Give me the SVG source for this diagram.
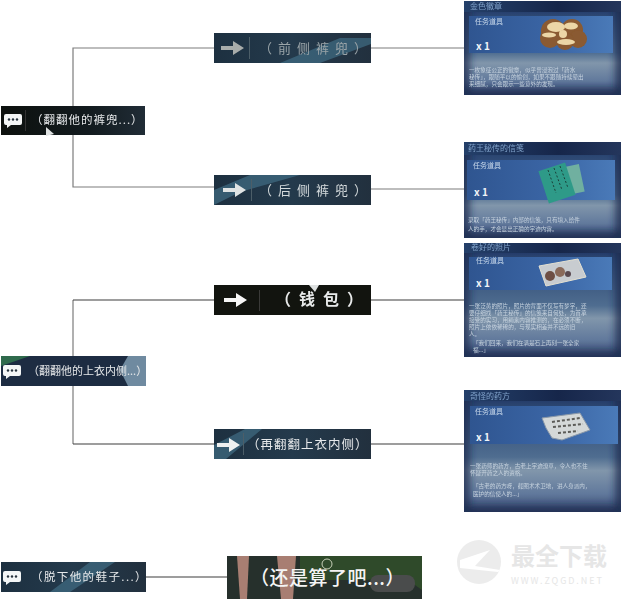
<svg xmlns="http://www.w3.org/2000/svg" width="622" height="600" viewBox="0 0 622 600">
<style>
text{font-family:"Noto Sans CJK SC","Noto Sans",sans-serif}
.c{fill:none;stroke:#7c7c7c;stroke-width:1.2}
.d{fill:none;stroke:#3c3c3c;stroke-width:1.1}
.l{fill:#e6e8ea;font-size:11.5px;letter-spacing:1px;filter:url(#s)}
.g{fill:#9aa4a8;font-size:13px;letter-spacing:6px;filter:url(#s)}
.w{fill:#e8eaea;font-size:16px;font-weight:700;letter-spacing:8px;filter:url(#s)}
.tt{fill:#7fa0c8;font-size:8px;filter:url(#s)}
.tg{fill:#c8d8ea;font-size:7px;filter:url(#s)}
.n{fill:#f0f4f8;font-size:10px;font-weight:700}
.b{fill:#c6d2de;font-size:5.6px;filter:url(#s)}
.mark{fill:#e6e6e6;font-weight:700}
.streak{fill:#3f6a80;opacity:.75}
.vig{fill:none;stroke:#1b2a4e;stroke-width:9;filter:url(#v)}
</style>
<defs>
<filter id="s" x="-10%" y="-30%" width="120%" height="160%"><feGaussianBlur stdDeviation="0.35"/></filter>
<filter id="v" x="-20%" y="-20%" width="140%" height="140%"><feGaussianBlur stdDeviation="4"/></filter>
<filter id="i" x="-10%" y="-10%" width="120%" height="120%"><feGaussianBlur stdDeviation="0.5"/></filter>
<linearGradient id="nd" x1="0" y1="0" x2="1" y2="0"><stop offset="0" stop-color="#1d3040"/><stop offset=".5" stop-color="#243a4c"/><stop offset="1" stop-color="#22303e"/></linearGradient>
<linearGradient id="nk" x1="0" y1="0" x2="1" y2="0"><stop offset="0" stop-color="#0d110e"/><stop offset=".6" stop-color="#121a1e"/><stop offset="1" stop-color="#202c36"/></linearGradient>
<linearGradient id="card" x1="0" y1="0" x2="0" y2="1"><stop offset="0" stop-color="#22375e"/><stop offset=".14" stop-color="#2b4672"/><stop offset=".55" stop-color="#4f6d90"/><stop offset=".66" stop-color="#8196ab"/><stop offset=".85" stop-color="#61799c"/><stop offset="1" stop-color="#364870"/></linearGradient>
<linearGradient id="band" x1="0" y1="0" x2="1" y2="0"><stop offset="0" stop-color="#2f5590"/><stop offset=".6" stop-color="#3b66a6"/><stop offset="1" stop-color="#4a7ab8"/></linearGradient>
<linearGradient id="title" x1="0" y1="0" x2="1" y2="0"><stop offset="0" stop-color="#24406a"/><stop offset=".6" stop-color="#16264a"/><stop offset="1" stop-color="#24365c"/></linearGradient>
<clipPath id="cN1"><rect x="214" y="33" width="157" height="30"/></clipPath>
<clipPath id="cN2"><rect x="214" y="175" width="157" height="30"/></clipPath>
<clipPath id="cN3"><rect x="214" y="429" width="157" height="30"/></clipPath>
<clipPath id="cN4"><rect x="1" y="356" width="145" height="30"/></clipPath>
<clipPath id="cN5"><rect x="1" y="562" width="145" height="30"/></clipPath>
<clipPath id="cN6"><rect x="227" y="556" width="195" height="43"/></clipPath>
<clipPath id="k1"><rect x="464" y="1" width="157" height="94"/></clipPath>
<clipPath id="k2"><rect x="464" y="142" width="157" height="96"/></clipPath>
<clipPath id="k3"><rect x="464" y="243" width="157" height="114"/></clipPath>
<clipPath id="k4"><rect x="464" y="390" width="157" height="122"/></clipPath>
<g id="bubble"><path d="M-7-6H7a2 2 0 0 1 2 2V3a2 2 0 0 1-2 2H-2L-6 8V5H-7a2 2 0 0 1-2-2V-4a2 2 0 0 1 2-2Z" fill="#f4f6f6"/><circle cx="-4" cy="-.5" r="1.2" fill="#26323c"/><circle cx="0" cy="-.5" r="1.2" fill="#26323c"/><circle cx="4" cy="-.5" r="1.2" fill="#26323c"/></g>
<path id="arrow" d="M-13-2H-1V-7L10 0-1 7V2H-13Z"/>
</defs>

<g id="connectors">
<path class="c" d="M73 106V48H214M73 135V187H214M371 48H464M371 189H464"/>
<path class="c" d="M73 356V300M73 386V444"/>
<path class="d" d="M73 300H214M73 444H214M371 300H464M371 444H464M146 577H227"/>
</g>

<g id="node-trousers">
<rect x="1" y="106" width="144" height="29" fill="url(#nk)"/>
<use href="#bubble" x="13" y="120"/>
<rect x="25" y="110" width="1" height="21" fill="#333"/>
<text class="l" x="31" y="124">（翻翻他的裤兜...）</text>
<path d="M46 127 L54 134 L50 135 L46 136Z" fill="#dfe2e2"/>
</g>

<g id="node-front">
<rect x="214" y="33" width="157" height="30" fill="url(#nd)"/>
<path class="streak" clip-path="url(#cN1)" d="M280 63 L340 38 H371 V44 L320 63Z"/>
<use href="#arrow" x="234" y="48" fill="#a8acaa"/>
<rect x="249" y="37" width="1" height="22" fill="#4c5e68"/>
<text class="g" x="259" y="53">（前侧裤兜）</text>
</g>

<g id="node-back">
<rect x="214" y="175" width="157" height="30" fill="url(#nd)"/>
<path class="streak" clip-path="url(#cN2)" d="M214 190 L250 175 H300 L240 192 L214 205Z"/>
<use href="#arrow" x="236" y="190" fill="#dfe3e3"/>
<rect x="251" y="179" width="1" height="22" fill="#4c5e68"/>
<text class="g" x="259" y="195" style="fill:#d4dadc">（后侧裤兜）</text>
</g>

<g id="node-wallet">
<rect x="214" y="285" width="157" height="30" fill="#12140f"/>
<use href="#arrow" x="237" y="300" fill="#f6f6f6"/>
<rect x="259" y="290" width="1" height="21" fill="#3a3a38"/>
<text class="w" x="275" y="305">（钱包）</text>
<path d="M309 285 L319 285 L315 292Z" fill="#dfe2e2"/>
</g>

<g id="node-again">
<rect x="214" y="429" width="157" height="30" fill="url(#nd)"/>
<path class="streak" clip-path="url(#cN3)" d="M214 445 L245 429 H262 L226 459 H214Z"/>
<use href="#arrow" x="230" y="445" fill="#eef0f0"/>
<rect x="243" y="433" width="1" height="22" fill="#4c5e68"/>
<text class="l" x="247" y="449" style="font-size:12.5px">（再翻翻上衣内侧）</text>
</g>

<g id="node-shirt">
<rect x="1" y="356" width="145" height="30" fill="#1d2c42"/>
<path clip-path="url(#cN4)" d="M1 356H30L1 366Z" fill="#2f6a4c"/>
<path clip-path="url(#cN4)" d="M128 356H146V386H128L120 370Z" fill="#6f8aa0"/>
<use href="#bubble" x="12" y="371"/>
<text class="l" x="28" y="375" style="font-size:11px;letter-spacing:0">（翻翻他的上衣内侧...）</text>
</g>

<g id="node-shoes">
<rect x="1" y="562" width="145" height="30" fill="url(#nd)"/>
<path class="streak" clip-path="url(#cN5)" d="M50 592 L90 562 H115 L70 592Z"/>
<use href="#bubble" x="12" y="577"/>
<text class="l" x="31" y="581" style="letter-spacing:1.4px">（脱下他的鞋子...）</text>
</g>

<g id="node-never-mind">
<rect x="227" y="556" width="195" height="43" fill="#26302c"/>
<g clip-path="url(#cN6)">
<path d="M300 556H422V590L405 578 360 580 H300Z" fill="#2f4a2a"/>
<path d="M237 556H249L247 599H240Z" fill="#a87e72"/>
<path d="M277 556H296L293 599H281Z" fill="#a87e72"/>
<rect x="370" y="575" width="45" height="17" rx="8" fill="#4a4c4c"/>
<circle cx="327" cy="564" r="5" fill="none" stroke="#c8d0b8"/>
</g>
<text x="250" y="585" style="fill:#f4f4f4;font-size:19px;font-weight:500;letter-spacing:.5px">（还是算了吧...）</text>
</g>

<g id="card-badge">
<rect x="464" y="1" width="157" height="94" fill="url(#card)"/>
<rect class="vig" x="464" y="1" width="157" height="94" clip-path="url(#k1)"/>
<rect x="464" y="1" width="157" height="11" fill="url(#title)"/>
<rect x="469" y="16" width="144" height="37" fill="url(#band)"/>
<text class="tt" x="470" y="9">金色徽章</text>
<text class="tg" x="475" y="24">任务道具</text>
<text class="n" x="476" y="50">x 1</text>
<g filter="url(#i)">
<g fill="#8a5a30"><circle cx="553" cy="31" r="12"/><circle cx="572" cy="30" r="11"/><circle cx="578" cy="39" r="9"/><circle cx="565" cy="41" r="9"/><circle cx="550" cy="38" r="10"/></g>
<g fill="#ecd6a6"><ellipse cx="556" cy="27" rx="9" ry="5"/><ellipse cx="571" cy="26" rx="7" ry="3.5"/><ellipse cx="566" cy="42" rx="9" ry="3"/><ellipse cx="549" cy="35" rx="7" ry="2.5"/><circle cx="563" cy="34" r="4"/></g>
</g>
<text class="b" x="469" y="72">一枚象征公正的徽章，似乎曾浸泡过「药水</text>
<text class="b" x="469" y="79">秘传」，跟随平以的愉创，如果不跟随持续晕出</text>
<text class="b" x="469" y="86">来细腻，只会跟示一些意外的发现。</text>
</g>

<g id="card-letter">
<rect x="464" y="142" width="157" height="96" fill="url(#card)"/>
<rect class="vig" x="464" y="142" width="157" height="96" clip-path="url(#k2)"/>
<rect x="464" y="142" width="157" height="13" fill="url(#title)"/>
<rect x="467" y="160" width="148" height="40" fill="url(#band)"/>
<text class="tt" x="468" y="151">药王秘传的信笺</text>
<text class="tg" x="473" y="168">任务道具</text>
<text class="n" x="474" y="196">x 1</text>
<g filter="url(#i)">
<rect x="560" y="166" width="22" height="28" transform="rotate(-12 571 180)" fill="#6fb0a0"/>
<rect x="543" y="166" width="28" height="34" transform="rotate(-18 557 183)" fill="#2f9a88"/>
<g stroke="#1c4038" stroke-width="1" stroke-dasharray="2 2"><path d="M548 170 L556 193M554 168 L562 190M560 166 L568 188"/></g>
</g>
<text class="b" x="468" y="222">录取「药王秘传」内部的信笺，只有填入给件</text>
<text class="b" x="468" y="231">人的手，才会显出正确的字迹内容。</text>
</g>

<g id="card-photo">
<rect x="464" y="243" width="157" height="114" fill="url(#card)"/>
<rect class="vig" x="464" y="243" width="157" height="114" clip-path="url(#k3)"/>
<rect x="464" y="243" width="157" height="10" fill="url(#title)"/>
<rect x="469" y="257" width="143" height="33" fill="url(#band)"/>
<text class="tt" x="471" y="250">卷好的照片</text>
<text class="tg" x="476" y="263">任务道具</text>
<text class="n" x="476" y="287">x 1</text>
<g filter="url(#i)">
<path d="M539 266 L578 259 L586 277 L546 286Z" fill="#c8ccd0" stroke="#e4e0d0"/>
<circle cx="550" cy="276" r="5" fill="#6e5044"/><circle cx="560" cy="272" r="5" fill="#8a6a5a"/><circle cx="568" cy="274" r="3" fill="#5a4a50"/>
</g>
<text class="b" x="469" y="308">一张泛黄的照片，照片的背面不仅写有梦字，还</text>
<text class="b" x="469" y="315">要仔细找「药王秘传」的信笺来自何处，为首承</text>
<text class="b" x="469" y="322">接受的实习，用绳素内容推测的，在必须不断，</text>
<text class="b" x="469" y="329">照片上依依稀稀的，与现实相差并不远的旧</text>
<text class="b" x="469" y="336">人。</text>
<text class="b" x="473" y="345">「我们回来，我们在满是石上再刻一张全家</text>
<text class="b" x="473" y="352">福...」</text>
</g>

<g id="card-recipe">
<rect x="464" y="390" width="157" height="122" fill="url(#card)"/>
<rect class="vig" x="464" y="390" width="157" height="122" clip-path="url(#k4)"/>
<rect x="464" y="390" width="157" height="11" fill="url(#title)"/>
<rect x="470" y="406" width="148" height="38" fill="url(#band)"/>
<text class="tt" x="470" y="399">奇怪的药方</text>
<text class="tg" x="475" y="414">任务道具</text>
<text class="n" x="476" y="441">x 1</text>
<g filter="url(#i)">
<path d="M542 418 L580 413 L590 430 L562 440 L552 438 L546 428Z" fill="#d4d8d8" stroke="#8a98a8"/>
<path d="M552 422 L580 418M553 427 L583 424M558 433 L578 431" stroke="#5c5c58" stroke-width="2" stroke-dasharray="3 2" fill="none"/>
</g>
<text class="b" x="470" y="468">一张药师的药方，古老上字迹潦草，令人也不住</text>
<text class="b" x="470" y="475">怀疑开药之人的资格。</text>
<text class="b" x="473" y="488">「古老的药方呀，截图术术卫地，进人身派内，</text>
<text class="b" x="473" y="496">医护的信使人的...」</text>
</g>

<g id="watermark">
<circle cx="479" cy="562" r="22" fill="#ececec"/>
<path d="M460 560 L490 550 L475 566 L500 570 L498 572 L460 568Z" fill="#fff"/>
<text class="mark" x="511" y="565" style="font-size:24px">最全下载</text>
<text x="511" y="584" style="fill:#e6e6e6;font-size:9px;letter-spacing:1.9px">WWW.ZQGD.NET</text>
</g>
</svg>
